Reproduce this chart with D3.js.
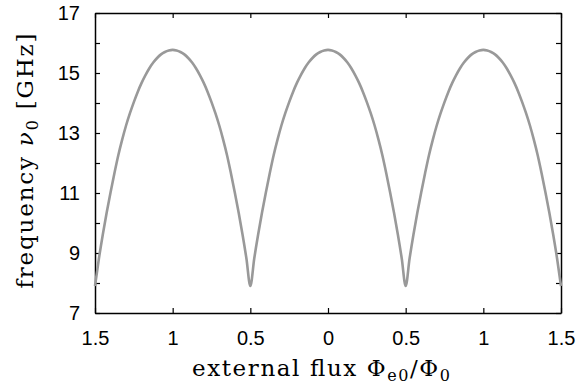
<!DOCTYPE html>
<html lang="en">
<head>
    <meta charset="UTF-8">
    <title>frequency vs flux</title>
    <script src="https://d3js.org/d3.v7.min.js"></script>
    <style>
        body { margin: 0; background: #fff; }
        .tick text { font-family: "Liberation Sans", Arial, sans-serif; }
        .lbl { font-family: "DejaVu Serif", "Liberation Serif", serif; }
    </style>
</head>
<body>
    <div class="canvas"></div>
    <script>
      // flux values (Phi_e0 / Phi_0), step 0.025
      const flux = [
        -1.5, -1.475, -1.45, -1.425, -1.4, -1.375, -1.35, -1.325, -1.3, -1.275, -1.25, -1.225, -1.2, -1.175, -1.15, -1.125, -1.1, -1.075, -1.05, -1.025,
        -1.0, -0.975, -0.95, -0.925, -0.9, -0.875, -0.85, -0.825, -0.8, -0.775, -0.75, -0.725, -0.7, -0.675, -0.65, -0.625, -0.6, -0.575, -0.55, -0.525,
        -0.5, -0.475, -0.45, -0.425, -0.4, -0.375, -0.35, -0.325, -0.3, -0.275, -0.25, -0.225, -0.2, -0.175, -0.15, -0.125, -0.1, -0.075, -0.05, -0.025,
        0.0, 0.025, 0.05, 0.075, 0.1, 0.125, 0.15, 0.175, 0.2, 0.225, 0.25, 0.275, 0.3, 0.325, 0.35, 0.375, 0.4, 0.425, 0.45, 0.475,
        0.5, 0.525, 0.55, 0.575, 0.6, 0.625, 0.65, 0.675, 0.7, 0.725, 0.75, 0.775, 0.8, 0.825, 0.85, 0.875, 0.9, 0.925, 0.95, 0.975,
        1.0, 1.025, 1.05, 1.075, 1.1, 1.125, 1.15, 1.175, 1.2, 1.225, 1.25, 1.275, 1.3, 1.325, 1.35, 1.375, 1.4, 1.425, 1.45, 1.475,
        1.5
      ];
      // frequency nu_0 [GHz]
      const freq = [
        7.90, 8.81, 9.61, 10.34, 11.02, 11.66, 12.26, 12.78, 13.25, 13.66, 14.03, 14.37, 14.67, 14.93, 15.16, 15.35, 15.50, 15.62, 15.70, 15.75,
        15.77, 15.75, 15.70, 15.62, 15.50, 15.35, 15.16, 14.93, 14.67, 14.37, 14.03, 13.66, 13.25, 12.78, 12.26, 11.66, 11.02, 10.34, 9.61, 8.81,
        7.90, 8.81, 9.61, 10.34, 11.02, 11.66, 12.26, 12.78, 13.25, 13.66, 14.03, 14.37, 14.67, 14.93, 15.16, 15.35, 15.50, 15.62, 15.70, 15.75,
        15.77, 15.75, 15.70, 15.62, 15.50, 15.35, 15.16, 14.93, 14.67, 14.37, 14.03, 13.66, 13.25, 12.78, 12.26, 11.66, 11.02, 10.34, 9.61, 8.81,
        7.90, 8.81, 9.61, 10.34, 11.02, 11.66, 12.26, 12.78, 13.25, 13.66, 14.03, 14.37, 14.67, 14.93, 15.16, 15.35, 15.50, 15.62, 15.70, 15.75,
        15.77, 15.75, 15.70, 15.62, 15.50, 15.35, 15.16, 14.93, 14.67, 14.37, 14.03, 13.66, 13.25, 12.78, 12.26, 11.66, 11.02, 10.34, 9.61, 8.81,
        7.90
      ];

      const xTicks = [-1.5, -1, -0.5, 0, 0.5, 1, 1.5];
      const xTickLabels = ['1.5', '1', '0.5', '0', '0.5', '1', '1.5'];
      const yTicks = [7, 8, 9, 10, 11, 12, 13, 14, 15, 16, 17];
      const yTickLabels = ['7', '', '9', '', '11', '', '13', '', '15', '', '17'];

      const width = 581;
      const height = 391;
      const [mt, mb, mr, ml] = [13, 78, 20, 95];
      const graphWidth = width - ml - mr;
      const graphHeight = height - mt - mb;

      const svg = d3.select('.canvas')
                      .append('svg')
                      .attr('width', width)
                      .attr('height', height);

      const graph = svg.append('g')
                        .attr('transform', `translate(${ml}, ${mt})`);

      const x = d3.scaleLinear().domain([-1.5, 1.5]).range([0, graphWidth]);
      const y = d3.scaleLinear().domain([7, 17]).range([graphHeight, 0]);

      const xLabelOf = d => xTickLabels[xTicks.indexOf(d)];
      const yLabelOf = d => yTickLabels[yTicks.indexOf(d)];

      // bottom / left axes with labels, ticks pointing inward
      const xAxisG = graph.append('g')
            .attr('transform', `translate(0, ${graphHeight})`)
            .call(d3.axisBottom(x).tickValues(xTicks).tickFormat(xLabelOf)
                    .tickSizeInner(-5).tickSizeOuter(0).tickPadding(18));
      const yAxisG = graph.append('g')
            .call(d3.axisLeft(y).tickValues(yTicks).tickFormat(yLabelOf)
                    .tickSizeInner(-5).tickSizeOuter(0).tickPadding(15));
      // top / right mirrored ticks
      const xTopG = graph.append('g')
            .call(d3.axisTop(x).tickValues(xTicks).tickFormat('')
                    .tickSizeInner(-5).tickSizeOuter(0));
      const yRightG = graph.append('g')
            .attr('transform', `translate(${graphWidth}, 0)`)
            .call(d3.axisRight(y).tickValues(yTicks).tickFormat('')
                    .tickSizeInner(-5).tickSizeOuter(0));

      [xAxisG, yAxisG, xTopG, yRightG].forEach(g => {
        g.select('.domain').attr('stroke', '#000').attr('stroke-width', 1.5);
        g.selectAll('.tick line').attr('stroke', '#000').attr('stroke-width', 1.2);
        g.selectAll('.tick text').attr('fill', '#000').style('font-size', '20px');
      });

      const line = d3.line()
                      .x((d, i) => x(flux[i]))
                      .y(d => y(d))
                      .curve(d3.curveMonotoneX);

      graph.append('path')
            .attr('fill', 'none')
            .attr('stroke', '#999999')
            .attr('stroke-width', 2.6)
            .attr('stroke-linejoin', 'round')
            .attr('d', line(freq));

      // axis titles
      const xTitle = svg.append('text')
            .attr('class', 'lbl')
            .attr('x', 321)
            .attr('y', 376)
            .attr('text-anchor', 'middle')
            .attr('textLength', 258)
            .attr('lengthAdjust', 'spacing')
            .style('font-size', '23px');
      xTitle.append('tspan').text('external flux Φ');
      xTitle.append('tspan').attr('dy', 5).style('font-size', '16px').text('e0');
      xTitle.append('tspan').attr('dy', -5).text('/Φ');
      xTitle.append('tspan').attr('dy', 5).style('font-size', '16px').text('0');

      const yTitle = svg.append('text')
            .attr('class', 'lbl')
            .attr('transform', `translate(33, 161) rotate(-90)`)
            .attr('text-anchor', 'middle')
            .attr('textLength', 255)
            .attr('lengthAdjust', 'spacing')
            .style('font-size', '23px');
      yTitle.append('tspan').text('frequency ');
      yTitle.append('tspan').style('font-style', 'italic').text('ν');
      yTitle.append('tspan').attr('dy', 5).style('font-size', '16px').text('0');
      yTitle.append('tspan').attr('dy', -5).text(' [GHz]');
    </script>
</body>
</html>
